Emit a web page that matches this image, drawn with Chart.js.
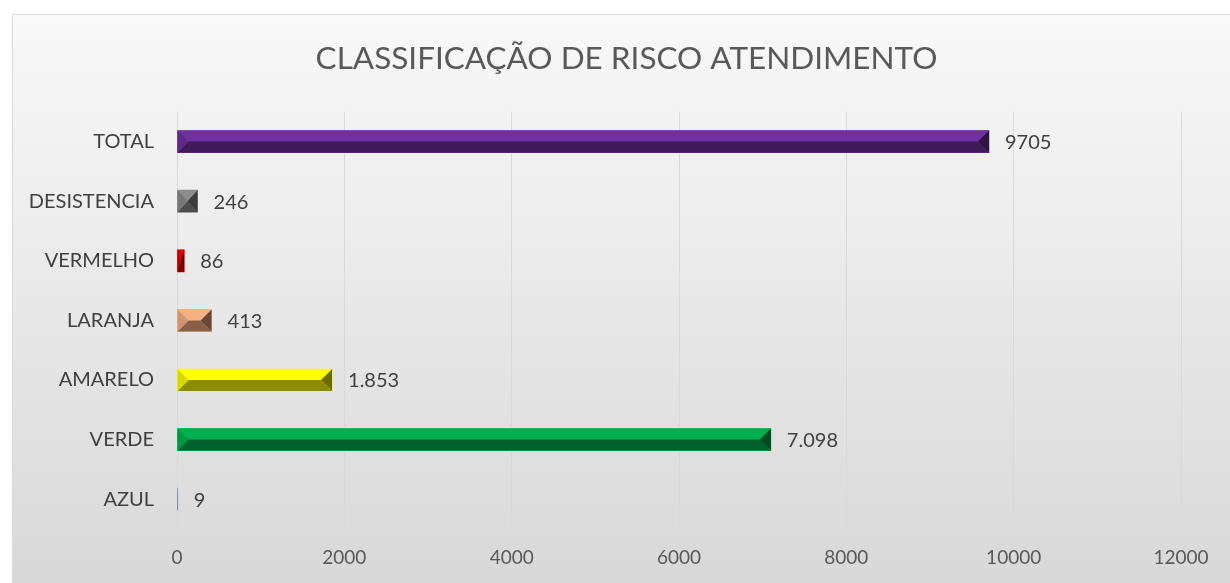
<!DOCTYPE html>
<html>
<head>
<meta charset="utf-8">
<script src="https://cdn.jsdelivr.net/npm/chart.js@4.4.1/dist/chart.umd.min.js"></script>
<style>
  html, body { margin: 0; padding: 0; background: #fff; }
  #frame {
    position: absolute; left: 12px; top: 14px; width: 1218px; height: 569px;
    box-sizing: border-box; border: 1px solid #d9d9d9; border-right: none; border-bottom: none;
    background: linear-gradient(#f9f9f9, #d8d8d8);
  }
  #chart { position: absolute; left: 12px; top: 14px; }
</style>
</head>
<body>
<div id="frame"></div>
<canvas id="chart" width="1218" height="569"></canvas>
<script>
// Data
const categories = ['TOTAL', 'DESISTENCIA', 'VERMELHO', 'LARANJA', 'AMARELO', 'VERDE', 'AZUL'];
const values = [9705, 246, 86, 413, 1853, 7098, 9];
const valueLabels = ['9705', '246', '86', '413', '1.853', '7.098', '9'];
const xTicks = [0, 2000, 4000, 6000, 8000, 10000, 12000];
const faceColors = ['#7030a0', '#8c8c8c', '#e00000', '#f4b183', '#ffff00', '#00b050', '#8497b0'];

// darken a hex colour by factor f
function shade(hex, f) {
    const n = parseInt(hex.slice(1), 16);
    const r = Math.round(((n >> 16) & 255) * f);
    const g = Math.round(((n >> 8) & 255) * f);
    const b = Math.round((n & 255) * f);
    return `rgb(${r},${g},${b})`;
}

function poly(ctx, pts, color) {
    ctx.beginPath();
    ctx.moveTo(pts[0][0], pts[0][1]);
    pts.slice(1).forEach(p => ctx.lineTo(p[0], p[1]));
    ctx.closePath();
    ctx.fillStyle = color;
    ctx.fill();
}

// Bevel look on top of the plain bars
const bevelPlugin = {
    id: 'bevel',
    afterDatasetsDraw(chart) {
        const ctx = chart.ctx;
        const meta = chart.getDatasetMeta(0);
        ctx.save();
        meta.data.forEach((bar, i) => {
            const { x, y, base, height } = bar.getProps(['x', 'y', 'base', 'height'], true);
            const x0 = Math.min(base, x), x1 = Math.max(base, x);
            const t = y - height / 2, b = y + height / 2;
            const w = x1 - x0;
            const d = Math.min(height / 2, w / 2);
            const col = faceColors[i];
            poly(ctx, [[x0, t], [x1, t], [x1 - d, y], [x0 + d, y]], col);
            poly(ctx, [[x0, b], [x1, b], [x1 - d, y], [x0 + d, y]], shade(col, 0.55));
            poly(ctx, [[x0, t], [x0 + d, y], [x0, b]], shade(col, 0.85));
            poly(ctx, [[x1, t], [x1 - d, y], [x1, b]], shade(col, 0.42));
        });
        ctx.restore();
    }
};

// Value labels at the end of each bar
const labelPlugin = {
    id: 'valueLabels',
    afterDatasetsDraw(chart) {
        const ctx = chart.ctx;
        const meta = chart.getDatasetMeta(0);
        ctx.save();
        ctx.font = '20px Lato';
        ctx.fillStyle = '#404040';
        ctx.textAlign = 'left';
        ctx.textBaseline = 'middle';
        meta.data.forEach((bar, i) => {
            ctx.fillText(valueLabels[i], bar.x + 16, bar.y + 1);
        });
        ctx.restore();
    }
};

new Chart(document.getElementById('chart'), {
    type: 'bar',
    data: {
        labels: categories,
        datasets: [{
            data: values,
            backgroundColor: faceColors,
            barThickness: 22
        }]
    },
    options: {
        responsive: false,
        animation: false,
        indexAxis: 'y',
        layout: { padding: { left: 11, right: 0, top: 0, bottom: 0 } },
        plugins: {
            legend: { display: false },
            tooltip: { enabled: false },
            title: {
                display: true,
                text: 'CLASSIFICAÇÃO DE RISCO ATENDIMENTO',
                color: '#595959',
                font: { family: 'Lato', size: 31.5, weight: '400' },
                padding: { top: 26, bottom: 34 }
            }
        },
        scales: {
            x: {
                min: 0,
                max: 12000,
                afterBuildTicks: s => { s.ticks = xTicks.map(v => ({ value: v })); },
                grid: { color: '#d9d9d9', drawTicks: false },
                border: { display: false },
                ticks: {
                    color: '#595959',
                    font: { family: 'Lato', size: 19 },
                    padding: 17,
                    callback: v => String(v)
                },
                afterFit: s => { s.height = 54; }
            },
            y: {
                grid: { display: false },
                border: { display: false },
                ticks: { color: '#404040', font: { family: 'Lato', size: 20 }, padding: 15 },
                afterFit: s => { s.width = 154; }
            },
            // empty axis on the right, only keeps room for the last tick label
            yRight: {
                type: 'linear',
                position: 'right',
                grid: { display: false },
                border: { display: false },
                ticks: { display: false },
                afterFit: s => { s.width = 49; }
            }
        }
    },
    plugins: [bevelPlugin, labelPlugin]
});
</script>
</body>
</html>
